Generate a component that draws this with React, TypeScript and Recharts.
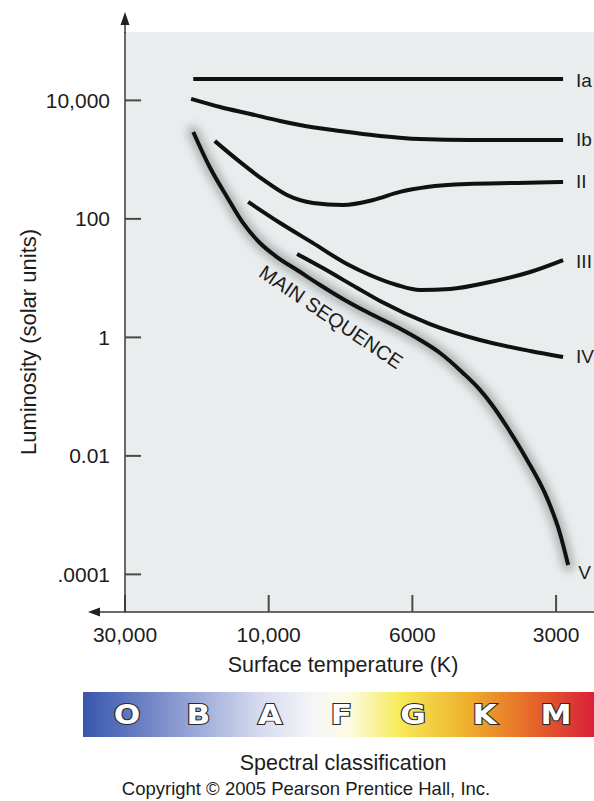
import React from "react";
import { CartesianGrid, Line, LineChart, XAxis, YAxis } from "recharts";

const FONT = '"Liberation Sans", Arial, Helvetica, sans-serif';
const INK = "#1c1c1c";

// temperature axis of the picture is not a standard scale: the four ticks are
// (nearly) evenly spaced, so we interpolate log(T) between neighbouring ticks.
const xTickTemps = [30000, 10000, 6000, 3000];
const xTickLabels = ["30,000", "10,000", "6000", "3000"];
const yTicks = [0.0001, 0.01, 1, 100, 10000];
const yTickLabels = [".0001", "0.01", "1", "100", "10,000"];

// [surface temperature (K), luminosity (solar units)]
const classIa = [
  [17800, 23000],
  [2900, 23000],
];
const classIb = [
  [18100, 10600],
  [14500, 7740],
  [11500, 5900],
  [9600, 4490],
  [8950, 3840],
  [7760, 3040],
  [6730, 2510],
  [5780, 2230],
  [4540, 2150],
  [3570, 2150],
  [2900, 2150],
];
const classII = [
  [15100, 2060],
  [12700, 990],
  [10400, 454],
  [9370, 253],
  [8540, 186],
  [7680, 172],
  [6900, 208],
  [6270, 285],
  [5590, 345],
  [4610, 388],
  [3620, 404],
  [2900, 420],
];
const classIII = [
  [11700, 193],
  [9600, 85],
  [8540, 39],
  [7570, 17.3],
  [6980, 11.3],
  [6340, 7.66],
  [5780, 6.3],
  [5000, 6.56],
  [4125, 8.6],
  [3400, 12.7],
  [2900, 20.2],
];
const classIV = [
  [9040, 25.6],
  [8250, 14.8],
  [7300, 6.82],
  [6730, 4.12],
  [5510, 1.68],
  [4330, 0.904],
  [3400, 0.589],
  [2900, 0.467],
];
const classV = [
  [17800, 2930],
  [15700, 751],
  [13750, 234],
  [12170, 85.3],
  [10690, 39.2],
  [9710, 22.7],
  [9040, 13.7],
  [8330, 7.66],
  [7680, 4.45],
  [7150, 2.9],
  [6340, 1.5],
  [5780, 0.904],
  [5250, 0.545],
  [4700, 0.251],
  [4330, 0.13],
  [4070, 0.0696],
  [3800, 0.0307],
  [3450, 0.00853],
  [3130, 0.0019],
  [2950, 0.00052],
  [2830, 0.000144],
];

const classNames = ["Ia", "Ib", "II", "III", "IV", "V"];
const classPoints = [classIa, classIb, classII, classIII, classIV, classV];
const spectralClasses = ["O", "B", "A", "F", "G", "K", "M"];

const logTicks = xTickTemps.map((t) => Math.log10(t));

function tempToAxis(t: number): number {
  const lt = Math.log10(t);
  let i = 0;
  while (i < logTicks.length - 2 && lt < logTicks[i + 1]) i++;
  return i + (logTicks[i] - lt) / (logTicks[i] - logTicks[i + 1]);
}

function formatLum(v: number): string {
  const i = yTicks.findIndex((t) => Math.abs(Math.log10(t) - Math.log10(v)) < 1e-6);
  return i >= 0 ? yTickLabels[i] : String(v);
}

const W = 594;

export default function App() {
  const series = classPoints.map((pts) =>
    pts.map(([t, l]) => ({ x: tempToAxis(t), L: l }))
  );
  const mainSeq = series[5];

  const endLabel = (name: string, count: number, dx: number, dy: number) =>
    (props: any) => {
      if (props.index !== count - 1) return null;
      return (
        <text
          x={props.x + dx}
          y={props.y + dy}
          fill={INK}
          fontSize={19}
          fontFamily={FONT}
          dominantBaseline="central"
        >
          {name}
        </text>
      );
    };

  const mainSeqLabel = (props: any) => {
    if (props.index === mainSeq.length - 1) {
      return (
        <text x={props.x + 10} y={props.y + 8} fill={INK} fontSize={19} fontFamily={FONT} dominantBaseline="central">
          V
        </text>
      );
    }
    if (props.index !== 7) return null;
    const cx = props.x + 11;
    const cy = props.y + 32;
    return (
      <text
        x={cx}
        y={cy}
        fill={INK}
        fontSize={20}
        fontFamily={FONT}
        textAnchor="middle"
        dominantBaseline="central"
        transform={`rotate(34 ${cx} ${cy})`}
      >
        MAIN SEQUENCE
      </text>
    );
  };

  const labelDy = [2, 0, 0, 1, 0];

  return (
    <div style={{ position: "absolute", left: 0, top: 0, width: W, height: 801, background: "#fff" }}>
      <style>{`.ms-glow path { filter: url(#msBlur); }`}</style>
      <svg width={0} height={0} style={{ position: "absolute" }}>
        <defs>
          <filter id="msBlur" x="-20%" y="-20%" width="140%" height="140%">
            <feGaussianBlur stdDeviation="4.5" />
          </filter>
        </defs>
      </svg>
      <LineChart width={W} height={650} margin={{ top: 32, right: 0, bottom: 0, left: 0 }}>
        <CartesianGrid horizontal={false} vertical={false} fill="#e9eded" stroke="none" />
        <XAxis
          type="number"
          dataKey="x"
          domain={[0, 3.264]}
          allowDataOverflow
          ticks={xTickTemps.map(tempToAxis)}
          tickFormatter={(v: number) => xTickLabels[Math.round(v)]}
          height={38}
          tickSize={-17}
          tickMargin={32}
          axisLine={{ stroke: "#3a3a3a", strokeWidth: 1.5 }}
          tickLine={{ stroke: "#4a4a4a", strokeWidth: 2 }}
          tick={{ fill: INK, fontSize: 21, fontFamily: FONT }}
        />
        <YAxis
          type="number"
          dataKey="L"
          scale="log"
          domain={[10 ** -4.635, 10 ** 5.154]}
          allowDataOverflow
          ticks={yTicks}
          tickFormatter={formatLum}
          width={125}
          tickSize={-16}
          tickMargin={31}
          axisLine={{ stroke: "#3a3a3a", strokeWidth: 1.5 }}
          tickLine={{ stroke: "#4a4a4a", strokeWidth: 2 }}
          tick={{ fill: INK, fontSize: 21, fontFamily: FONT }}
        />
        <Line
          data={mainSeq}
          dataKey="L"
          type="monotone"
          stroke="#8a9292"
          strokeOpacity={0.6}
          strokeWidth={13}
          strokeLinecap="round"
          dot={false}
          className="ms-glow"
          isAnimationActive={false}
        />
        {series.slice(0, 5).map((d, i) => (
          <Line
            key={classNames[i]}
            data={d}
            dataKey="L"
            type="monotone"
            stroke="#111"
            strokeWidth={4}
            dot={false}
            isAnimationActive={false}
            label={endLabel(classNames[i], d.length, 13, labelDy[i])}
          />
        ))}
        <Line
          data={mainSeq}
          dataKey="L"
          type="monotone"
          stroke="#111"
          strokeWidth={4}
          dot={false}
          isAnimationActive={false}
          label={mainSeqLabel}
        />
      </LineChart>

      <svg width={W} height={801} style={{ position: "absolute", left: 0, top: 0, pointerEvents: "none" }}>
        <defs>
          <linearGradient id="specGrad" x1="0" y1="0" x2="1" y2="0">
            <stop offset="0%" stopColor="#3856ad" />
            <stop offset="15%" stopColor="#7a8dca" />
            <stop offset="34%" stopColor="#d3d8ee" />
            <stop offset="45%" stopColor="#f6f6f8" />
            <stop offset="52%" stopColor="#fdfbe4" />
            <stop offset="62%" stopColor="#f7ea58" />
            <stop offset="75%" stopColor="#eeb02c" />
            <stop offset="88%" stopColor="#e6662a" />
            <stop offset="100%" stopColor="#d8203a" />
          </linearGradient>
        </defs>
        {/* axis arrows */}
        <line x1={125} y1={24} x2={125} y2={33} stroke="#3a3a3a" strokeWidth={1.5} />
        <polygon points="125,12 120.5,25 129.5,25" fill="#222" />
        <line x1={99} y1={612} x2={126} y2={612} stroke="#3a3a3a" strokeWidth={1.5} />
        <polygon points="88,612 100,607.5 100,616.5" fill="#222" />

        <text
          x={28}
          y={342}
          transform="rotate(-90 28 342)"
          textAnchor="middle"
          dominantBaseline="central"
          fontSize={22}
          fontFamily={FONT}
          fill={INK}
        >
          Luminosity (solar units)
        </text>
        <text x={343} y={665} textAnchor="middle" dominantBaseline="central" fontSize={21.5} fontFamily={FONT} fill={INK}>
          Surface temperature (K)
        </text>

        <rect x={83} y={692} width={511} height={45} fill="url(#specGrad)" />
        {spectralClasses.map((c, i) => {
          const cx = 127 + i * 71.5;
          return (
            <text
              key={c}
              x={cx}
              y={715}
              textAnchor="middle"
              dominantBaseline="central"
              fontSize={26}
              fontWeight={900}
              fontFamily='"DejaVu Sans", sans-serif'
              fill="#fff"
              stroke="#2a2a2a"
              strokeWidth={2}
              paintOrder="stroke"
              transform={`translate(${cx} 715) scale(1.2 1) translate(${-cx} -715)`}
            >
              {c}
            </text>
          );
        })}

        <text x={343} y={763} textAnchor="middle" dominantBaseline="central" fontSize={21.5} fontFamily={FONT} fill={INK}>
          Spectral classification
        </text>
        <text x={306} y={788} textAnchor="middle" dominantBaseline="central" fontSize={18.5} fontFamily={FONT} fill={INK}>
          Copyright © 2005 Pearson Prentice Hall, Inc.
        </text>
      </svg>
    </div>
  );
}
